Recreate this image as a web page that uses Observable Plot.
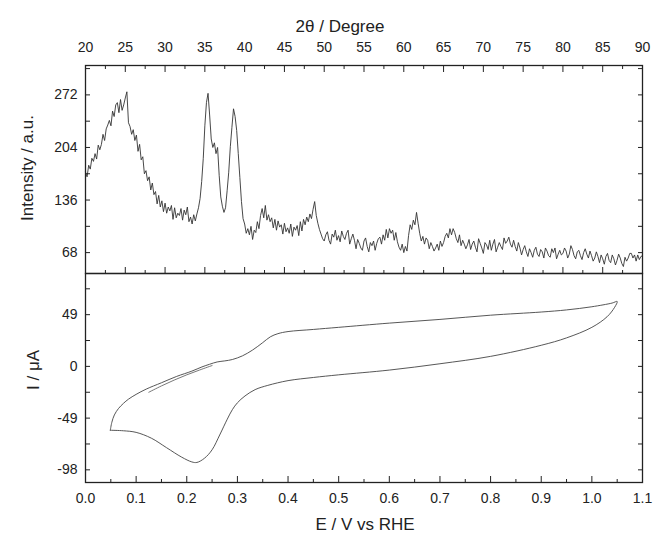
<!DOCTYPE html>
<html><head><meta charset="utf-8">
<script src="https://cdn.jsdelivr.net/npm/d3@7"></script>
<script src="https://cdn.jsdelivr.net/npm/@observablehq/plot@0.6"></script>
<style>
body{margin:0;background:#fff;font-family:"Liberation Sans",Arial,sans-serif;}
#wrap{position:relative;width:655px;height:534px;overflow:hidden;background:#fff;}
#wrap svg{position:absolute;left:0;}
.t{position:absolute;font-size:17px;color:#222;white-space:nowrap;transform:translate(-50%,-50%);line-height:1;}
.r{transform:translate(-50%,-50%) rotate(-90deg);}
</style></head><body><div id="wrap"></div>
<script>
// ---- XRD pattern (top panel) ----
const twoThetaStart = 20, twoThetaStep = 0.2;
const intensity = [
172,166,181,176,190,186,196,189,207,201,
208,221,213,228,233,239,232,251,244,259,
262,249,266,252,259,268,276,236,231,221,
227,213,220,199,208,188,192,170,174,161,
166,149,158,143,147,131,142,127,135,121,
132,119,127,122,129,111,126,113,119,116,
125,110,123,117,127,108,114,105,117,109,
118,126,138,160,190,232,262,274,246,215,
204,210,196,204,168,140,128,120,126,148,
172,205,230,254,244,226,196,165,134,112,
105,93,99,91,102,85,97,94,108,99,
116,125,113,129,110,117,108,113,100,111,
97,109,101,104,92,106,95,100,93,105,
89,101,97,103,90,108,96,111,104,114,
108,118,112,124,134,116,106,98,92,86,
83,91,95,84,79,92,88,97,84,90,
82,96,89,85,93,97,79,86,92,84,
73,85,80,74,71,83,87,76,69,81,
77,83,71,80,86,88,79,91,84,98,
87,99,93,97,84,94,82,75,71,79,
68,76,70,90,104,98,110,104,120,106,
93,83,89,79,87,84,73,81,76,70,
74,79,71,83,76,81,89,93,87,99,
91,99,94,86,81,91,77,84,79,73,
78,85,72,79,83,75,69,86,80,74,
67,81,78,72,84,71,79,85,69,75,
81,76,72,87,80,83,88,79,75,84,
76,70,81,74,65,72,77,69,63,73,
68,62,71,75,66,63,72,69,61,74,
70,64,62,73,68,74,60,66,71,65,
67,74,70,61,66,77,72,64,60,69,
71,64,59,68,73,66,61,70,64,57,
61,69,63,55,65,60,53,63,67,58,
55,65,60,52,58,66,61,54,50,62,
57,61,67,67,61,65,57,65,59,63,
64
];
const thetaTicks = [20,25,30,35,40,45,50,55,60,65,70,75,80,85,90];
const thetaMinor = [22.5,27.5,32.5,37.5,42.5,47.5,52.5,57.5,62.5,67.5,72.5,77.5,82.5,87.5];
const intTicks = [68,136,204,272];
const intMinor = [102,170,238,306];

// ---- Cyclic voltammogram (bottom panel) ----
const cvE = [
0.049,0.075,0.10,0.13,0.16,0.19,0.21,0.22,0.235,0.25,0.265,0.28,0.29,0.30,0.315,0.335,0.36,0.40,0.45,0.50,0.60,0.70,0.80,0.90,0.95,1.00,1.03,1.045,1.05,
1.04,1.00,0.95,0.90,0.80,0.70,0.60,0.50,0.45,0.40,0.38,0.365,0.35,0.33,0.31,0.29,0.275,0.26,0.245,0.23,0.21,0.18,0.15,0.12,0.10,0.085,0.075,0.065,0.057,0.052,0.049
];
const cvI = [
-60.5,-61,-62.5,-68,-77,-86,-90.5,-91,-87,-79,-65,-50,-41,-34.5,-28,-22,-18,-13.5,-10.5,-8,-3.5,2.5,9.5,20,27,37,47,56,61.5,
60,56.5,53.5,51.5,48.5,44.5,41,37,35,33,31,28,22.5,15.5,10,6.5,5.2,4.2,2,-0.5,-4.5,-9.5,-15.5,-21.5,-26.5,-31,-35,-40,-46,-53,-60.5
];
const tailE = [0.125,0.15,0.175,0.20,0.225,0.25];
const tailI = [-24.5,-18.5,-13,-8,-3.5,0.8];
const eTicks = [0,0.1,0.2,0.3,0.4,0.5,0.6,0.7,0.8,0.9,1.0,1.1];
const eMinor = [0.05,0.15,0.25,0.35,0.45,0.55,0.65,0.75,0.85,0.95,1.05];
const iTicks = [-98,-49,0,49];
const iMinor = [-73.5,-24.5,24.5,73.5];

const FONT = '"Liberation Sans", Arial, sans-serif';
const INK = "#222";
const blank = () => "";
const style = {fontFamily: FONT, fontSize: "14px", color: INK, background: "transparent", overflow: "visible"};

const xrd = intensity.map((v, i) => ({t: twoThetaStart + i * twoThetaStep, v}));
const cv = cvE.map((e, i) => ({e, i: cvI[i]}));
const tail = tailE.map((e, i) => ({e, i: tailI[i]}));

const topPlot = Plot.plot({
  width: 655, height: 273, marginTop: 65, marginBottom: 0, marginLeft: 85, marginRight: 13,
  style,
  x: {domain: [20, 90]},
  y: {domain: [41, 310]},
  marks: [
    Plot.line(xrd, {x: "t", y: "v", stroke: "#333", strokeWidth: 0.9}),
    Plot.axisX({anchor: "top", ticks: thetaTicks, tickSize: 0, tickPadding: 14, label: null, tickFormat: d => String(d), fill: INK}),
    Plot.axisX({anchor: "top", ticks: thetaTicks, tickSize: -6, tickFormat: blank, label: null, stroke: INK}),
    Plot.axisX({anchor: "top", ticks: thetaMinor, tickSize: -3, tickFormat: blank, label: null, stroke: INK}),
    Plot.axisX({anchor: "bottom", ticks: thetaTicks, tickSize: -6, tickFormat: blank, label: null, stroke: INK}),
    Plot.axisX({anchor: "bottom", ticks: thetaMinor, tickSize: -3, tickFormat: blank, label: null, stroke: INK}),
    Plot.axisY({anchor: "left", ticks: intTicks, tickSize: 0, tickPadding: 8, label: null, tickFormat: d => String(d), fill: INK}),
    Plot.axisY({anchor: "left", ticks: intTicks.concat(intMinor), tickSize: -5, tickFormat: blank, label: null, stroke: INK}),
    Plot.axisY({anchor: "right", ticks: intTicks.concat(intMinor), tickSize: -5, tickFormat: blank, label: null, stroke: INK}),
    Plot.frame({stroke: INK, strokeWidth: 1.3})
  ]
});

const botPlot = Plot.plot({
  width: 655, height: 261, marginTop: 0, marginBottom: 52, marginLeft: 85, marginRight: 13,
  style,
  x: {domain: [0, 1.1]},
  y: {domain: [-110, 88]},
  marks: [
    Plot.line(cv, {x: "e", y: "i", stroke: "#444", strokeWidth: 0.9, curve: "catmull-rom"}),
    Plot.line(tail, {x: "e", y: "i", stroke: "#555", strokeWidth: 0.8, curve: "catmull-rom"}),
    Plot.axisX({anchor: "bottom", ticks: eTicks, tickSize: 0, tickPadding: 11, label: null, tickFormat: d3.format(".1f"), fill: INK}),
    Plot.axisX({anchor: "bottom", ticks: eTicks, tickSize: -6, tickFormat: blank, label: null, stroke: INK}),
    Plot.axisX({anchor: "bottom", ticks: eMinor, tickSize: -3, tickFormat: blank, label: null, stroke: INK}),
    Plot.axisY({anchor: "left", ticks: iTicks, tickSize: 0, tickPadding: 8, label: null, tickFormat: d => String(d), fill: INK}),
    Plot.axisY({anchor: "left", ticks: iTicks.concat(iMinor), tickSize: -5, tickFormat: blank, label: null, stroke: INK}),
    Plot.axisY({anchor: "right", ticks: iTicks.concat(iMinor), tickSize: -5, tickFormat: blank, label: null, stroke: INK}),
    Plot.frame({stroke: INK, strokeWidth: 1.3})
  ]
});

const wrap = document.getElementById("wrap");
topPlot.style.top = "0px";
botPlot.style.top = "273px";
wrap.appendChild(topPlot);
wrap.appendChild(botPlot);

function label(text, x, y, rot) {
  const d = document.createElement("div");
  d.className = "t" + (rot ? " r" : "");
  d.style.left = x + "px";
  d.style.top = y + "px";
  d.textContent = text;
  wrap.appendChild(d);
}
label("2θ / Degree", 340, 26, false);
label("E / V vs RHE", 365, 524, false);
label("Intensity / a.u.", 27, 168, true);
label("I / μA", 33, 370, true);
</script></body></html>
